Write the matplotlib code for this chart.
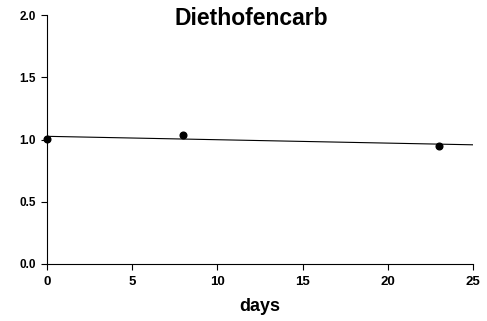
import matplotlib.pyplot as plt
import numpy as np

# measured residue fraction vs. time
days = [0, 8, 23]
fraction = [1.005, 1.036, 0.952]

# x range of the fitted line
fit_range = [0, 25]

plt.rcParams['font.family'] = ['Liberation Sans', 'DejaVu Sans']
plt.rcParams['font.weight'] = 'bold'

fig = plt.figure(figsize=(4.87, 3.21), dpi=100)
ax = fig.add_axes([0.0965, 0.1776, 0.8745, 0.7754])

# linear fit through the points
slope, intercept = np.polyfit(days, fraction, 1)
xfit = np.array(fit_range)
ax.plot(xfit, intercept + slope * xfit, color='black', lw=0.8, zorder=2)
ax.plot(days, fraction, 'o', color='black', markersize=4.8, zorder=3, clip_on=False)

ax.set_xlim(0, 25)
ax.set_ylim(0, 2.0)
ax.set_xticks([0, 5, 10, 15, 20, 25])
ax.set_yticks([0.0, 0.5, 1.0, 1.5, 2.0])
ax.set_yticklabels(['0.0', '0.5', '1.0', '1.5', '2.0'])

for side in ['top', 'right']:
    ax.spines[side].set_visible(False)
for side in ['left', 'bottom']:
    ax.spines[side].set_linewidth(0.8)

ax.tick_params(axis='x', direction='out', length=4, width=0.8, pad=5, labelsize=9.5)
ax.tick_params(axis='y', direction='out', length=4, width=0.8, pad=4, labelsize=8.5)
for lab in ax.get_xticklabels() + ax.get_yticklabels():
    lab.set_fontweight('bold')

fig.text(0.517, 0.922, 'Diethofencarb', ha='center', va='baseline',
         fontsize=16.5, fontweight='bold')
fig.text(0.534, 0.031, 'days', ha='center', va='baseline',
         fontsize=13, fontweight='bold')

fig.savefig('out.png', dpi=100)
